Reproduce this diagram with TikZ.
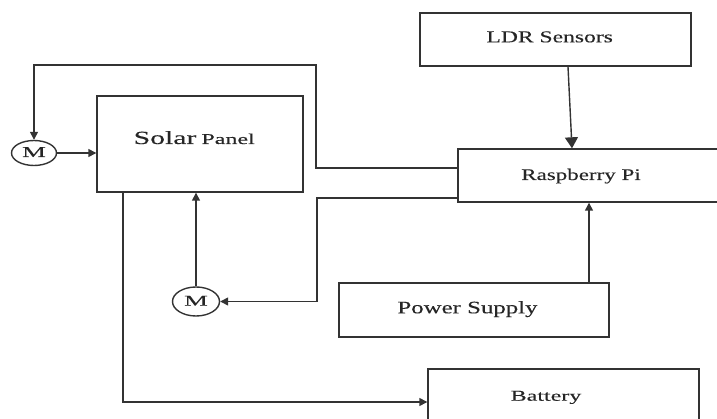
\documentclass[tikz,border=0pt]{standalone}
\usepackage{fontspec}
\setmainfont{Liberation Serif}[FakeStretch=1.42,FakeBold=0.2]
\newfontfamily\widefont{Liberation Serif}[FakeStretch=1.6,FakeBold=0.2]
\newfontfamily\motorfont{Liberation Serif}[FakeStretch=1.8,FakeBold=0.2]
\usetikzlibrary{arrows.meta,shapes.geometric}
\tikzset{
  ln/.style={line width=1.4pt, draw=black!80},
  box/.style={ln, rectangle, inner sep=0pt, text=black!85},
  motor/.style={ln, ellipse, inner sep=0pt, text=black!85, font=\motorfont\fontsize{15}{16}\selectfont},
  arr/.style={ln, -{Triangle[length=8pt,width=8pt]}},
  bigarr/.style={ln, -{Triangle[length=11pt,width=13pt]}},
}
\begin{document}
\begin{tikzpicture}[x=1pt,y=-1pt]
\useasboundingbox (0,0) rectangle (717,419);
% boxes
\node[box, minimum width=271pt, minimum height=53pt, text height=5.6pt, text depth=0pt,
      font=\fontsize{16.6}{17}\selectfont] (ldr) at (555.5,39.5) {\hspace*{-11.6pt}LDR Sensors};
\node[box, minimum width=206pt, minimum height=96pt, text height=0pt, text depth=0pt, font=\widefont] (solar) at (200,144)
      {\hspace*{-11.6pt}{\fontsize{18.6}{20}\selectfont Solar}\hspace{5pt}{\fontsize{15}{16}\selectfont Panel}};
\node[box, minimum width=262pt, minimum height=53pt, text height=9pt, text depth=0pt,
      font=\fontsize{16.2}{17}\selectfont] (rpi) at (589,175.5) {\hspace*{-16pt}Raspberry Pi};
\node[box, minimum width=270pt, minimum height=54pt, text height=6.6pt, text depth=0pt,
      font=\fontsize{17.5}{18}\selectfont] (ps) at (474,310) {\hspace*{-13pt}Power Supply};
\node[box, minimum width=271pt, minimum height=56pt, text height=7.4pt, text depth=0pt,
      font=\widefont\fontsize{15}{16}\selectfont] (bat) at (563.5,397) {\hspace*{-35pt}Battery};
% motors
\node[motor, minimum width=45pt, minimum height=25pt, text height=8pt, text depth=0pt] (mleft) at (34,153) {M};
\node[motor, minimum width=47pt, minimum height=29pt, text height=8.4pt, text depth=0pt] (mbot) at (196,301.5) {M};
% connectors
\draw[arr] (rpi.west |- 0,168) -- (316,168) -- (316,65) -- (mleft.north |- 0,65) -- (mleft.north);
\draw[arr] (rpi.west |- 0,198) -- (317,198) |- (mbot.east);
\draw[arr] (mleft.east) -- (solar.west |- mleft.east);
\draw[arr] (mbot.north) -- (mbot.north |- solar.south);
\draw[arr] (solar.south -| 123,0) -- (123,402) -- (bat.west |- 0,402);
\draw[bigarr] ([xshift=12.5pt]ldr.south) -- ([xshift=-17pt]rpi.north);
\draw[arr] (ps.north -| rpi.south) -- (rpi.south);
\end{tikzpicture}
\end{document}
